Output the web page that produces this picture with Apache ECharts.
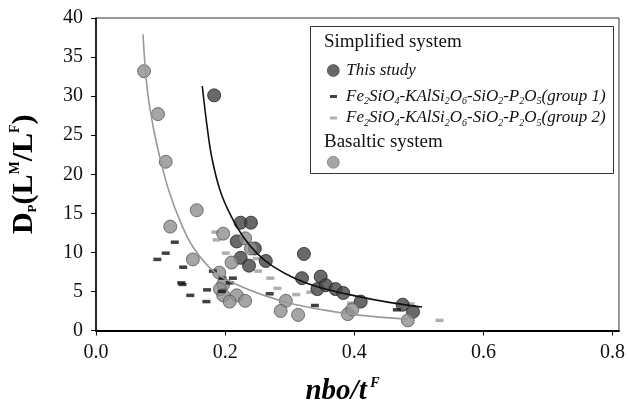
<!DOCTYPE html>
<html>
<head>
<meta charset="utf-8">
<script src="https://cdn.jsdelivr.net/npm/echarts@6/dist/echarts.min.js"></script>
<style>
  html, body { margin: 0; padding: 0; background: #fff; }
  #chart { width: 628px; height: 411px; }
</style>
</head>
<body>
<div id="chart"></div>
<script>
// values: [nbo/t, Dp]
const thisStudy = [
  [0.183, 30.1], [0.224, 13.8], [0.240, 13.8], [0.218, 11.4], [0.246, 10.5],
  [0.224, 9.3], [0.237, 8.3], [0.263, 8.9], [0.322, 9.8], [0.319, 6.7],
  [0.348, 6.9], [0.343, 5.3], [0.356, 5.8], [0.371, 5.3], [0.383, 4.8],
  [0.410, 3.7], [0.475, 3.3], [0.491, 2.4]
]
const group1 = [
  [0.122, 11.3], [0.108, 9.9], [0.095, 9.1], [0.135, 8.1], [0.181, 7.6],
  [0.132, 6.1], [0.134, 5.9], [0.212, 6.7], [0.196, 6.7], [0.207, 6.1],
  [0.172, 5.2], [0.195, 5.0], [0.146, 4.5], [0.171, 3.7], [0.269, 4.7],
  [0.339, 3.2], [0.466, 2.65]
]
const group2 = [
  [0.185, 12.6], [0.187, 11.6], [0.201, 9.9], [0.249, 9.2], [0.251, 7.6],
  [0.270, 6.7], [0.281, 5.4], [0.310, 4.6], [0.332, 4.9], [0.395, 3.5],
  [0.487, 3.4], [0.532, 1.3]
]
const basaltic = [
  [0.0744, 33.2], [0.096, 27.7], [0.108, 21.6], [0.156, 15.4], [0.115, 13.3],
  [0.197, 12.4], [0.231, 11.8], [0.240, 10.5], [0.150, 9.1], [0.210, 8.7],
  [0.191, 7.4], [0.197, 5.9], [0.192, 5.3], [0.197, 4.5], [0.218, 4.5],
  [0.207, 3.7], [0.231, 3.8], [0.294, 3.8], [0.286, 2.5], [0.313, 2.0],
  [0.390, 2.1], [0.397, 2.7], [0.483, 1.3]
]
// fitted curves
const fitSimplified = [
  [0.1646, 31.3], [0.1718, 26.3], [0.1795, 22.1], [0.1923, 17.9], [0.210, 14.5],
  [0.228, 12.0], [0.249, 9.9], [0.274, 8.2], [0.310, 6.6], [0.351, 5.4],
  [0.403, 4.4], [0.454, 3.6], [0.505, 3.0]
]
const fitBasaltic = [
  [0.0728, 37.9], [0.0795, 30.8], [0.0897, 25.6], [0.100, 21.8], [0.1128, 17.9],
  [0.1308, 13.9], [0.151, 10.6], [0.182, 7.6], [0.218, 5.9], [0.264, 4.4],
  [0.300, 3.5], [0.351, 2.65], [0.403, 2.0], [0.482, 1.45]
]
const xTicks = [0, 0.2, 0.4, 0.6, 0.8]

const serif = 'Liberation Serif'
const g1Label = '{i|Fe}{s|2}{i|SiO}{s|4}{i|-KAlSi}{s|2}{i|O}{s|6}{i|-SiO}{s|2}{i|-P}{s|2}{i|O}{s|5}{i|(group 1)}'
const g2Label = g1Label.replace('group 1', 'group 2')

const chart = echarts.init(document.getElementById('chart'), null, { renderer: 'canvas' })

const legendRich = {
  i: { fontFamily: serif, fontStyle: 'italic', fontSize: 17, color: '#111' },
  s: { fontFamily: serif, fontStyle: 'italic', fontSize: 10, color: '#111', padding: [10, 0, 0, 0] }
}

chart.setOption({
  animation: false,
  grid: {
    left: 95,
    right: 6,
    top: 18,
    bottom: 76,
    show: true,
    borderColor: '#333',
    borderWidth: 1
  },
  xAxis: {
    type: 'value',
    min: 0,
    max: 0.81,
    interval: 0.2,
    splitLine: { show: false },
    axisLine: { onZero: false, lineStyle: { color: '#000', width: 2 } },
    axisTick: { length: 5, lineStyle: { color: '#000' }, customValues: xTicks },
    axisLabel: {
      customValues: xTicks,
      margin: 12,
      fontFamily: serif,
      fontSize: 20,
      color: '#111',
      formatter: v => v.toFixed(1)
    },
    name: '{a|nbo/t}{b| F}',
    nameLocation: 'middle',
    nameGap: 46,
    nameTextStyle: {
      padding: [0, 30, 0, 0],
      rich: {
        a: { fontFamily: serif, fontStyle: 'italic', fontWeight: 'bold', fontSize: 29, color: '#000' },
        b: { fontFamily: serif, fontStyle: 'italic', fontWeight: 'bold', fontSize: 14, color: '#000', padding: [0, 0, 16, 0] }
      }
    }
  },
  yAxis: {
    type: 'value',
    min: 0,
    max: 40,
    interval: 5,
    splitLine: { show: false },
    axisLine: { show: true, lineStyle: { color: '#000', width: 1.5 } },
    axisTick: { show: true, length: 5, lineStyle: { color: '#000' } },
    axisLabel: { margin: 13, fontFamily: serif, fontSize: 20, color: '#111' },
    name: '{d|D}{p|P}{d|(L}{m|M}{d|/L}{m|F}{d|)}',
    nameLocation: 'middle',
    nameRotate: 90,
    nameGap: 55,
    nameTextStyle: {
      rich: {
        d: { fontFamily: serif, fontWeight: 'bold', fontSize: 30, color: '#000' },
        p: { fontFamily: serif, fontWeight: 'bold', fontSize: 13, color: '#000', padding: [17, 0, 0, 0] },
        m: { fontFamily: serif, fontWeight: 'bold', fontSize: 14, color: '#000', padding: [0, 0, 19, 0] }
      }
    }
  },
  legend: [{
    data: ['This study'],
    left: 327,
    top: 62,
    padding: 0,
    itemWidth: 12,
    itemHeight: 12,
    icon: 'circle',
    itemStyle: { borderWidth: 0.6 },
    textStyle: { fontFamily: serif, fontStyle: 'italic', fontSize: 17, color: '#111', padding: [0, 0, 0, 2] }
  }, {
    data: ['group 1', 'group 2'],
    orient: 'vertical',
    left: 330,
    top: 88,
    padding: 0,
    itemGap: 3,
    itemWidth: 7,
    itemHeight: 3,
    icon: 'rect',
    formatter: name => (name === 'group 1' ? g1Label : g2Label),
    textStyle: { padding: [0, 0, 0, 4], rich: legendRich }
  }, {
    data: ['Basaltic'],
    left: 327,
    top: 156,
    padding: 0,
    itemWidth: 12,
    itemHeight: 12,
    icon: 'circle',
    itemStyle: { borderWidth: 0.6 },
    formatter: () => '',
    textStyle: { fontSize: 1 }
  }],
  graphic: [{
    type: 'rect',
    shape: { x: 310.5, y: 26.5, width: 303, height: 147 },
    style: { fill: 'none', stroke: '#333', lineWidth: 1 },
    z: 50
  }, {
    type: 'text',
    x: 324,
    y: 42,
    style: { text: 'Simplified system', fontFamily: serif, fontSize: 19, fill: '#111', verticalAlign: 'middle' },
    z: 50
  }, {
    type: 'text',
    x: 324,
    y: 142,
    style: { text: 'Basaltic system', fontFamily: serif, fontSize: 19, fill: '#111', verticalAlign: 'middle' },
    z: 50
  }],
  series: [{
    name: 'group 2',
    type: 'scatter',
    symbol: 'rect',
    symbolSize: [8, 3.5],
    itemStyle: { color: '#9b9b9b' },
    data: group2,
    z: 2
  }, {
    name: 'This study',
    type: 'scatter',
    symbol: 'circle',
    symbolSize: 13,
    itemStyle: { color: '#444', borderColor: '#222', borderWidth: 1 },
    data: thisStudy,
    z: 3
  }, {
    name: 'Basaltic',
    type: 'scatter',
    symbol: 'circle',
    symbolSize: 13,
    itemStyle: { color: '#8e8e8e', borderColor: '#585858', borderWidth: 1 },
    data: basaltic,
    z: 4
  }, {
    name: 'group 1',
    type: 'scatter',
    symbol: 'rect',
    symbolSize: [8, 3.5],
    itemStyle: { color: '#111' },
    data: group1,
    z: 5
  }, {
    name: 'fit simplified',
    type: 'line',
    data: fitSimplified,
    smooth: 0.4,
    showSymbol: false,
    symbol: 'none',
    lineStyle: { color: '#111', width: 1.6 },
    z: 6
  }, {
    name: 'fit basaltic',
    type: 'line',
    data: fitBasaltic,
    smooth: 0.4,
    showSymbol: false,
    symbol: 'none',
    lineStyle: { color: '#999', width: 1.6 },
    z: 6
  }]
})
</script>
</body>
</html>
